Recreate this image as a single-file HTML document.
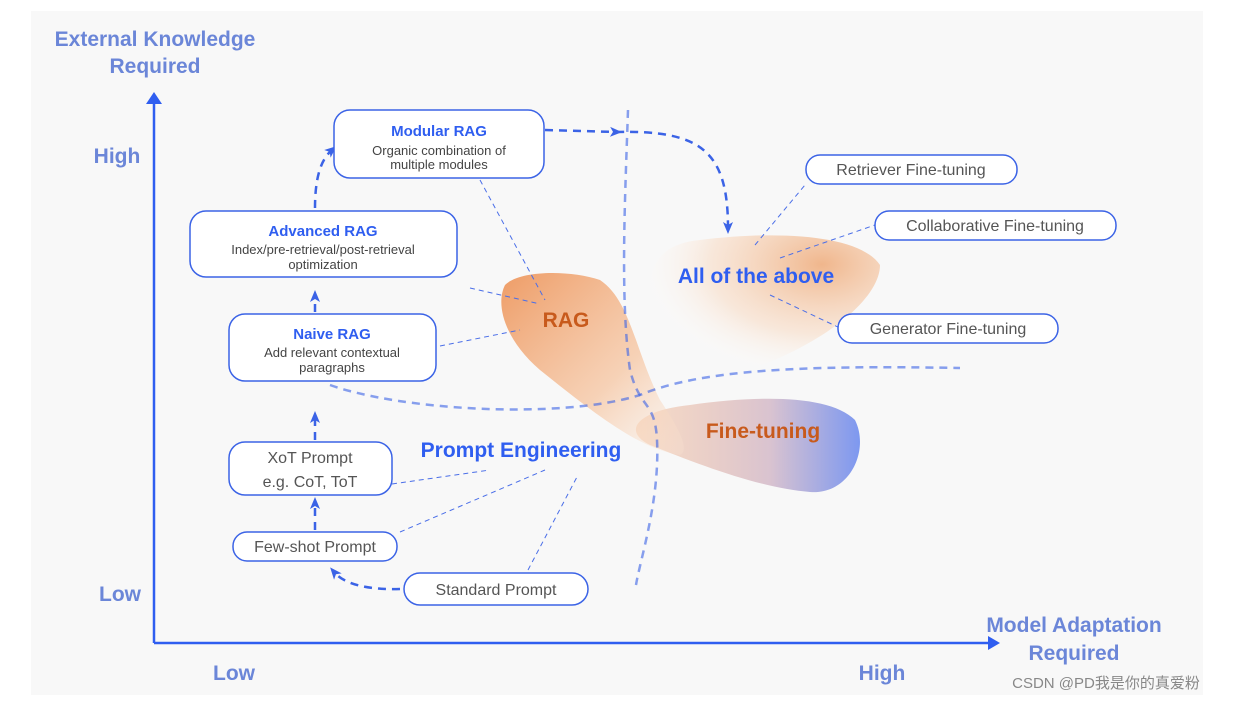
<!DOCTYPE html>
<html><head><meta charset="utf-8"><style>
html,body{margin:0;padding:0;background:#fff;}
svg{display:block;font-family:"Liberation Sans","Noto Sans CJK SC",sans-serif;}
</style></head><body>
<svg width="1239" height="702" viewBox="0 0 1239 702" xmlns="http://www.w3.org/2000/svg">
<defs>
<linearGradient id="rag" x1="0" y1="0" x2="1" y2="1">
<stop offset="0" stop-color="#ee9c66"/><stop offset="0.6" stop-color="#f6c8a6" stop-opacity="0.8"/><stop offset="1" stop-color="#fbe6d6" stop-opacity="0.2"/></linearGradient>
<linearGradient id="ft" x1="0" y1="0" x2="1" y2="0">
<stop offset="0" stop-color="#f5c8a8" stop-opacity="0.6"/><stop offset="0.6" stop-color="#d9c3d0"/><stop offset="1" stop-color="#7d98f0"/></linearGradient>
<radialGradient id="all" cx="0.75" cy="0.2" r="0.8">
<stop offset="0" stop-color="#f0b68c"/><stop offset="0.6" stop-color="#f8dcc6" stop-opacity="0.6"/><stop offset="1" stop-color="#fff" stop-opacity="0"/></radialGradient>
<marker id="ah" markerUnits="userSpaceOnUse" markerWidth="12" markerHeight="12" refX="6" refY="6" orient="auto"><path d="M0,1 L12,6 L0,11 L3,6 z" fill="#3b63e6"/></marker>
</defs>
<rect x="31" y="11" width="1172" height="684" fill="#f8f8f8"/>
<g fill="#6b86d8" font-weight="bold" font-size="21">
<text x="155" y="46" text-anchor="middle">External Knowledge</text>
<text x="155" y="73" text-anchor="middle">Required</text>
<text x="117" y="163" text-anchor="middle">High</text>
<text x="120" y="601" text-anchor="middle">Low</text>
<text x="234" y="680" text-anchor="middle">Low</text>
<text x="882" y="680" text-anchor="middle">High</text>
<text x="1074" y="632" text-anchor="middle">Model Adaptation</text>
<text x="1074" y="660" text-anchor="middle">Required</text>
</g>
<path d="M154,643 L154,100" stroke="#2f5ef0" stroke-width="2.5" fill="none"/>
<path d="M146,104 L154,92 L162,104z" fill="#2f5ef0"/>
<path d="M154,643 L992,643" stroke="#2f5ef0" stroke-width="2.5"/>
<path d="M988,636 L1000,643 L988,650z" fill="#2f5ef0"/>
<path d="M700,240 C780,230 860,235 880,265 C880,300 820,350 720,380 C660,390 640,330 650,280 C655,255 670,243 700,240z" fill="url(#all)"/>
<path d="M690,405 C760,395 830,395 855,420 C870,450 850,495 810,492 C760,488 700,465 650,445 C620,430 640,410 690,405z" fill="url(#ft)"/>
<path d="M505,285 C520,270 570,270 600,280 C630,300 635,350 660,400 C680,430 690,450 680,455 C640,450 590,410 540,370 C505,340 495,305 505,285z" fill="url(#rag)"/>
<g fill="none" stroke="#3b63e6" stroke-width="2.5" stroke-dasharray="8,6">
<path d="M628,110 C625,200 620,300 630,370 C640,410 655,400 657,440 C660,500 640,560 636,585" stroke-opacity="0.6"/>
<path d="M330,385 C400,410 560,420 640,395 C700,370 800,365 960,368" stroke-opacity="0.6"/>
<path d="M545,130 L616,132" marker-end="url(#ah)"/>
<path d="M616,132 C700,130 728,150 728,228" marker-end="url(#ah)"/>
<path d="M315,440 L315,417" marker-end="url(#ah)"/>
<path d="M315,530 L315,503" marker-end="url(#ah)"/>
<path d="M315,312 L315,296" marker-end="url(#ah)"/>
<path d="M315,208 C315,180 320,160 332,150" marker-end="url(#ah)"/>
<path d="M400,589 C370,590 345,585 334,572" marker-end="url(#ah)"/>
</g>
<g stroke="#4a6ee8" stroke-width="1" stroke-dasharray="5,4" fill="none">
<path d="M470,288 L540,304"/><path d="M480,180 L545,300"/><path d="M440,346 L520,330"/>
<path d="M755,245 L805,185"/><path d="M780,258 L875,225"/><path d="M770,295 L840,328"/>
<path d="M392,484 L490,470"/><path d="M400,532 L545,470"/><path d="M528,570 L578,475"/>
</g>
<g fill="#fff" stroke="#3b63e6" stroke-width="1.5">
<rect x="334" y="110" width="210" height="68" rx="16"/>
<rect x="190" y="211" width="267" height="66" rx="16"/>
<rect x="229" y="314" width="207" height="67" rx="16"/>
<rect x="229" y="442" width="163" height="53" rx="16"/>
<rect x="233" y="532" width="164" height="29" rx="14"/>
<rect x="404" y="573" width="184" height="32" rx="16"/>
<rect x="806" y="155" width="211" height="29" rx="14"/>
<rect x="875" y="211" width="241" height="29" rx="14"/>
<rect x="838" y="314" width="220" height="29" rx="14"/>
</g>
<g text-anchor="middle" font-size="15" font-weight="bold" fill="#2f5ef0">
<text x="439" y="136">Modular RAG</text>
<text x="323" y="236">Advanced RAG</text>
<text x="332" y="339">Naive RAG</text>
</g>
<g text-anchor="middle" font-size="13" fill="#444">
<text x="439" y="155">Organic combination of</text>
<text x="439" y="169">multiple modules</text>
<text x="323" y="254">Index/pre-retrieval/post-retrieval</text>
<text x="323" y="269">optimization</text>
<text x="332" y="357">Add relevant contextual</text>
<text x="332" y="372">paragraphs</text>
</g>
<g text-anchor="middle" font-size="16" fill="#555">
<text x="310" y="463">XoT Prompt</text>
<text x="310" y="487">e.g. CoT, ToT</text>
<text x="315" y="552">Few-shot Prompt</text>
<text x="496" y="595">Standard Prompt</text>
<text x="911" y="175">Retriever Fine-tuning</text>
<text x="995" y="231">Collaborative Fine-tuning</text>
<text x="948" y="334">Generator Fine-tuning</text>
</g>
<g font-weight="bold" font-size="21">
<text x="521" y="457" text-anchor="middle" fill="#2f5ef0">Prompt Engineering</text>
<text x="756" y="283" text-anchor="middle" fill="#2f5ef0">All of the above</text>
<text x="566" y="327" text-anchor="middle" fill="#c85a1c">RAG</text>
<text x="763" y="438" text-anchor="middle" fill="#c85a1c">Fine-tuning</text>
</g>
<text x="1106" y="688" text-anchor="middle" font-size="15" fill="#888">CSDN @PD我是你的真爱粉</text>
</svg>
</body></html>
